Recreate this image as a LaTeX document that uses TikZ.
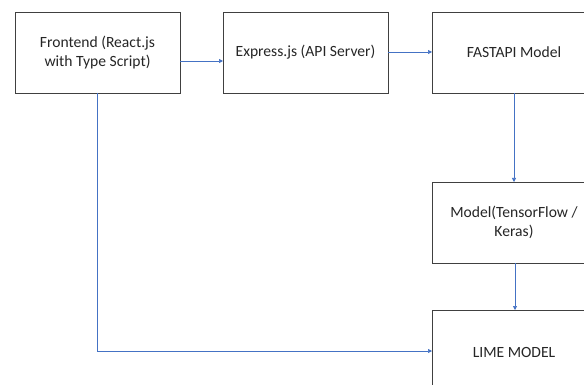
\documentclass[tikz,border=0pt]{standalone}
\usepackage{fontspec}
\setmainfont{Carlito}
\usetikzlibrary{arrows.meta}
\definecolor{lnblue}{HTML}{4472C4}
\definecolor{bxgray}{HTML}{404040}
\begin{document}
\begin{tikzpicture}[x=1pt,y=-1pt,
  box/.style={draw=bxgray,line width=0.8pt,fill=white,inner sep=0pt},
  conn/.style={draw=lnblue,line width=0.7pt,-{Triangle[length=4pt,width=4pt]}},
  lbl/.style={font=\fontsize{15.6}{19}\selectfont,align=center,text=black!85}]
\useasboundingbox (0,0) rectangle (584,385);
\begin{scope}
\clip (0,0) rectangle (584,385);
\draw[box] (15,12) rectangle (180,93);
\draw[box] (223,12) rectangle (388,93);
\draw[box] (432,12) rectangle (600,93);
\draw[box] (432,182) rectangle (600,263);
\draw[box] (432,310) rectangle (600,400);
\node[lbl] (fe) at (97.5,52.5) {Frontend (React.js\\with Type Script)};
\node[lbl] (ex) at (305.5,52.5) {Express.js (API Server)};
\node[lbl] (fa) at (514,52.5) {FASTAPI Model};
\node[lbl] (mo) at (514,222.5) {Model(TensorFlow /\\Keras)};
\node[lbl] (li) at (514,352) {LIME MODEL};
\coordinate (feR) at (180,61);
\coordinate (exL) at (223,61);
\coordinate (exR) at (388,52);
\coordinate (faL) at (432,52);
\coordinate (faB) at (514,93);
\coordinate (moT) at (514,182);
\coordinate (moB) at (515,263);
\coordinate (liT) at (515,310);
\coordinate (feB) at (97,93);
\coordinate (corner) at (97,351);
\coordinate (liL) at (432,351);
\draw[conn] (feR) -- (exL);
\draw[conn] (exR) -- (faL);
\draw[conn] (faB) -- (moT);
\draw[conn] (moB) -- (liT);
\draw[conn] (feB) -- (corner) -- (liL);
\end{scope}
\end{tikzpicture}
\end{document}
